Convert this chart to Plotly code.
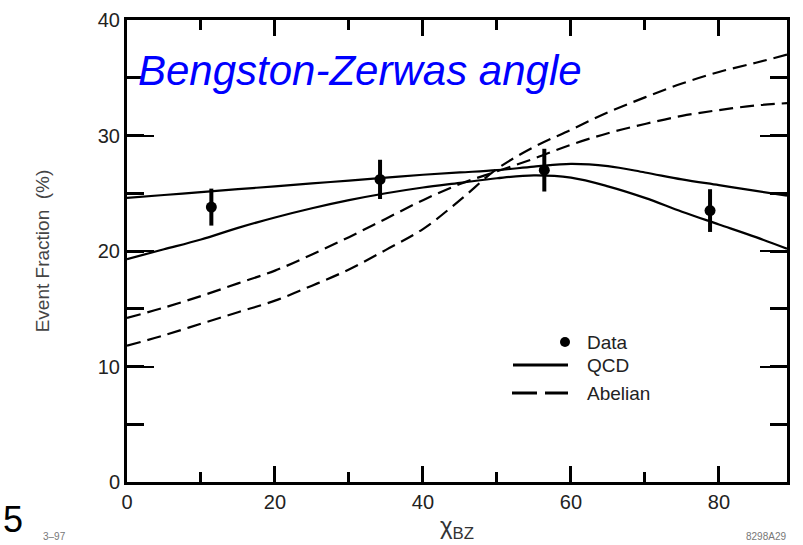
import plotly.graph_objects as go

# ---- data ----
data_x = [11.4, 34.2, 56.4, 78.8]
data_y = [23.8, 26.2, 27.0, 23.5]
data_err = [1.6, 1.7, 1.85, 1.85]

curve_x = [0, 5, 10, 15, 20, 25, 30, 35, 40, 45, 50, 55, 60, 65, 70, 75, 80, 85, 89.2]
qcd_upper = [24.6, 24.85, 25.1, 25.35, 25.6, 25.85, 26.1, 26.35, 26.6, 26.8, 27.0, 27.3, 27.55, 27.35, 26.8, 26.2, 25.7, 25.2, 24.8]
qcd_lower = [19.3, 20.15, 21.0, 22.0, 22.9, 23.7, 24.4, 25.0, 25.5, 25.9, 26.3, 26.55, 26.35, 25.6, 24.6, 23.4, 22.3, 21.2, 20.2]
abel_upper = [14.2, 15.1, 16.1, 17.2, 18.3, 19.7, 21.2, 22.8, 24.4, 25.8, 26.9, 28.0, 29.2, 30.2, 31.0, 31.7, 32.2, 32.6, 32.8]
abel_lower = [11.8, 12.7, 13.7, 14.7, 15.7, 17.0, 18.4, 20.1, 21.9, 24.4, 27.1, 29.0, 30.5, 32.0, 33.3, 34.5, 35.5, 36.3, 37.0]

x_ticks = [0, 20, 40, 60, 80]
y_ticks = [0, 10, 20, 30, 40]

fig = go.Figure()

line_w = 2.2
for ys in (qcd_upper, qcd_lower):
    fig.add_trace(go.Scatter(x=curve_x, y=ys, mode="lines", line=dict(color="black", width=line_w, shape="spline", smoothing=1.0), showlegend=False, hoverinfo="skip"))
for ys in (abel_upper, abel_lower):
    fig.add_trace(go.Scatter(x=curve_x, y=ys, mode="lines", line=dict(color="black", width=line_w, dash="14px,7px", shape="spline", smoothing=1.0), showlegend=False, hoverinfo="skip"))

fig.add_trace(go.Scatter(
    x=data_x, y=data_y, mode="markers",
    marker=dict(color="black", size=11),
    error_y=dict(type="data", array=data_err, color="black", thickness=4, width=0),
    showlegend=False,
))

tick_font = dict(family="Liberation Sans, Arial, sans-serif", size=20, color="#222")

fig.update_xaxes(
    range=[0, 89.2], tickvals=x_ticks, ticks="inside", ticklen=16, tickwidth=3, tickcolor="black",
    showline=True, linecolor="black", linewidth=3, mirror="ticks", showgrid=False, zeroline=False,
    tickfont=tick_font,
    title=dict(text="χ<sub>BZ</sub>", font=dict(family="Liberation Sans, Arial", size=24, color="#333"), standoff=6),
    minor=dict(ticks="inside", ticklen=10, tickwidth=3, tickcolor="black", dtick=10, showgrid=False),
)
fig.update_yaxes(
    range=[0, 40], tickvals=y_ticks, ticks="inside", ticklen=27, tickwidth=2, tickcolor="black",
    showline=True, linecolor="black", linewidth=3, mirror="ticks", showgrid=False, zeroline=False,
    tickfont=tick_font,
    title=dict(text="Event Fraction  (%)", font=dict(family="Liberation Sans Narrow, Liberation Sans, Arial", size=19, color="#444"), standoff=44),
    minor=dict(ticks="inside", ticklen=17, tickwidth=3, tickcolor="black", dtick=5, showgrid=False),
)

W, H = 803, 545
L, R, T, B = 127, 16, 20, 63
pw, ph = W - L - R, H - T - B

def px(xp):
    return (xp - L) / pw

def py(yp):
    return (H - B - yp) / ph

annotations = [
    dict(text="<i>Bengston-Zerwas angle</i>", x=px(136), y=py(70), xref="paper", yref="paper",
         xanchor="left", yanchor="middle", showarrow=False,
         font=dict(family="Liberation Sans, Arial, sans-serif", size=42, color="#0000ff")),
    dict(text="5", x=px(13), y=py(519), xref="paper", yref="paper", showarrow=False,
         xanchor="center", yanchor="middle",
         font=dict(family="Liberation Sans, Arial", size=36, color="black")),
    dict(text="3–97", x=px(54), y=py(536), xref="paper", yref="paper", showarrow=False,
         xanchor="center", yanchor="middle",
         font=dict(family="Liberation Sans, Arial", size=10, color="#777")),
    dict(text="8298A29", x=px(766), y=py(536), xref="paper", yref="paper", showarrow=False,
         xanchor="center", yanchor="middle",
         font=dict(family="Liberation Sans, Arial", size=10, color="#777")),
]

leg_font = dict(family="Liberation Sans, Arial", size=19, color="#222")
legend_items = [("Data", 342), ("QCD", 365), ("Abelian", 393)]
for label, yp in legend_items:
    annotations.append(dict(text=label, x=px(585), y=py(yp), xref="paper", yref="paper",
                            xanchor="left", yanchor="middle", showarrow=False, font=leg_font))

shapes = [
    dict(type="circle", xref="paper", yref="paper", x0=px(560), x1=px(570), y0=py(337), y1=py(347),
         fillcolor="black", line=dict(color="black", width=0)),
    dict(type="line", xref="paper", yref="paper", x0=px(513), x1=px(568), y0=py(365), y1=py(365),
         line=dict(color="black", width=3)),
    dict(type="line", xref="paper", yref="paper", x0=px(512), x1=px(537), y0=py(393), y1=py(393),
         line=dict(color="black", width=3)),
    dict(type="line", xref="paper", yref="paper", x0=px(545), x1=px(568), y0=py(393), y1=py(393),
         line=dict(color="black", width=3)),
]

fig.update_layout(
    width=W, height=H, margin=dict(l=L, r=R, t=T, b=B, autoexpand=False),
    paper_bgcolor="white", plot_bgcolor="white",
    annotations=annotations, shapes=shapes, showlegend=False,
)

fig.write_html("out.html")
